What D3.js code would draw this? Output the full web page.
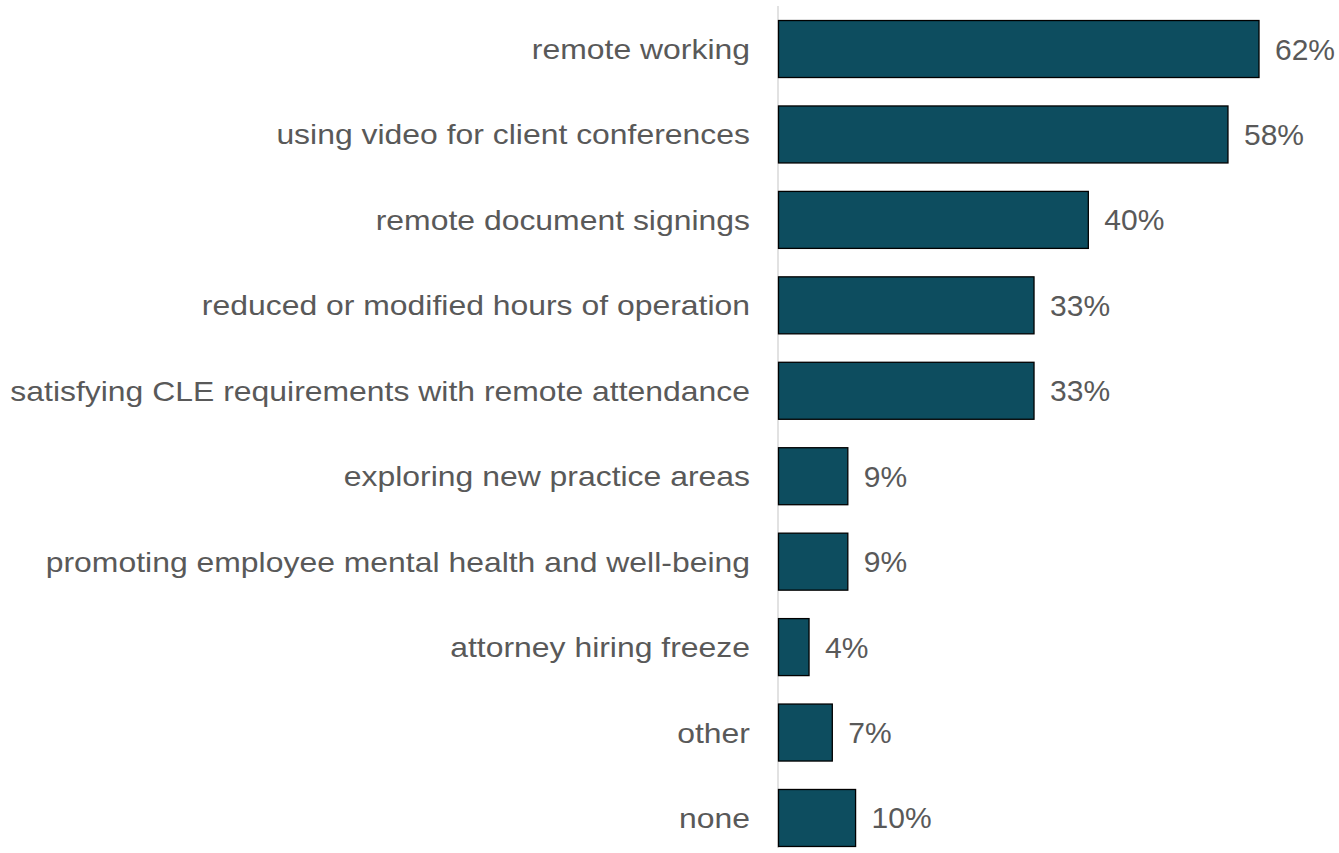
<!DOCTYPE html>
<html><head><meta charset="utf-8">
<script src="https://cdn.jsdelivr.net/npm/d3@7"></script>
<style>html,body{margin:0;padding:0;background:#fff;}</style>
</head><body>
<svg id="chart" width="1339" height="853"></svg>
<script>
const categories = ["remote working","using video for client conferences","remote document signings","reduced or modified hours of operation","satisfying CLE requirements with remote attendance","exploring new practice areas","promoting employee mental health and well-being","attorney hiring freeze","other","none"];
const values = [62,58,40,33,33,9,9,4,7,10];
const valueLabels = ["62%","58%","40%","33%","33%","9%","9%","4%","7%","10%"];

const svg = d3.select("#chart");
const x = d3.scaleLinear().domain([0, 62]).range([778, 1259]);
const y = d3.scaleBand().domain(categories).range([6.3, 860.7]).paddingInner(0.333).paddingOuter(0.1665);

svg.append("line").attr("x1",778).attr("x2",778).attr("y1",6).attr("y2",848)
  .attr("stroke","#d9d9d9").attr("stroke-width",1.5);

svg.selectAll("rect.bar").data(categories).join("rect")
  .attr("class","bar")
  .attr("x", x(0)+0.5)
  .attr("y", d=>y(d))
  .attr("width", (d,i)=>x(values[i])-x(0)-0.5)
  .attr("height", y.bandwidth())
  .attr("fill","#0d4d5f").attr("stroke","#000").attr("stroke-width",1.3);

const font = "'Liberation Sans', Arial, sans-serif";
svg.selectAll("text.cat").data(categories).join("text")
  .attr("class","cat")
  .attr("transform", d=>`translate(750,${y(d)+y.bandwidth()/2}) scale(1.12,1)`)
  .attr("dy","0.35em").attr("text-anchor","end")
  .attr("font-family",font).attr("font-size",28.5).attr("fill","#595959")
  .text(d=>d);

svg.selectAll("text.val").data(categories).join("text")
  .attr("class","val")
  .attr("x", (d,i)=>x(values[i])+16).attr("y", d=>y(d)+y.bandwidth()/2)
  .attr("dy","0.35em")
  .attr("font-family",font).attr("font-size",30).attr("fill","#595959")
  .text((d,i)=>valueLabels[i]);
</script>
</body></html>
